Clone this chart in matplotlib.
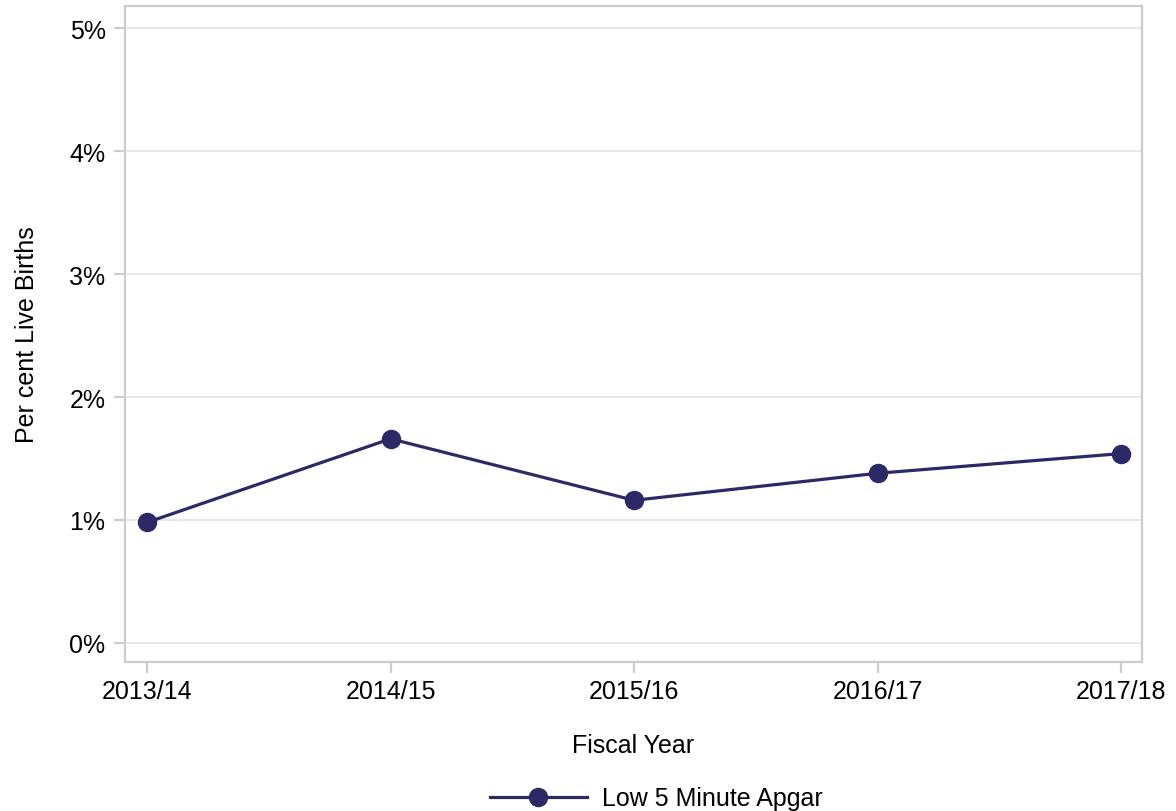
import matplotlib.pyplot as plt
from matplotlib.ticker import FuncFormatter

plt.rcParams['font.family'] = ['Liberation Sans', 'DejaVu Sans']

years = ['2013/14', '2014/15', '2015/16', '2016/17', '2017/18']
low_apgar = [0.98, 1.66, 1.16, 1.38, 1.54]
yticks = [0, 1, 2, 3, 4, 5]

line_color = '#2b2a66'
frame_color = '#cccccc'

fig = plt.figure(figsize=(11.76, 8.12), dpi=100)
ax = fig.add_axes([0.1063, 0.1835, 0.8648, 0.8079])

x = list(range(len(years)))
ax.plot(x, low_apgar, color=line_color, linewidth=2.3, marker='o', markersize=13,
        label='Low 5 Minute Apgar', zorder=3)

ax.set_xlim(-0.09, len(years) - 1 + 0.085)
ax.set_ylim(-0.155, 5.18)
ax.set_xticks(x)
ax.set_xticklabels(years)
ax.set_yticks(yticks)
ax.yaxis.set_major_formatter(FuncFormatter(lambda v, p: '%d%%' % v))

ax.grid(axis='y', color='#e8e8e8', linewidth=1.5, zorder=0)
ax.set_axisbelow(True)
for s in ax.spines.values():
    s.set_color(frame_color)
    s.set_linewidth(1.6)
ax.tick_params(axis='both', colors=frame_color, labelcolor='black', labelsize=18,
               length=8, width=1.6)
ax.tick_params(axis='x', pad=4)
ax.tick_params(axis='y', pad=6)

ax.set_xlabel('Fiscal Year', fontsize=18, labelpad=22)
ax.set_ylabel('Per cent Live Births', fontsize=18, labelpad=22)

fig.legend(loc='lower center', bbox_to_anchor=(0.558, -0.027), frameon=False,
           fontsize=18, handlelength=3.9, handletextpad=0.6)

fig.savefig('out.png', dpi=100)
